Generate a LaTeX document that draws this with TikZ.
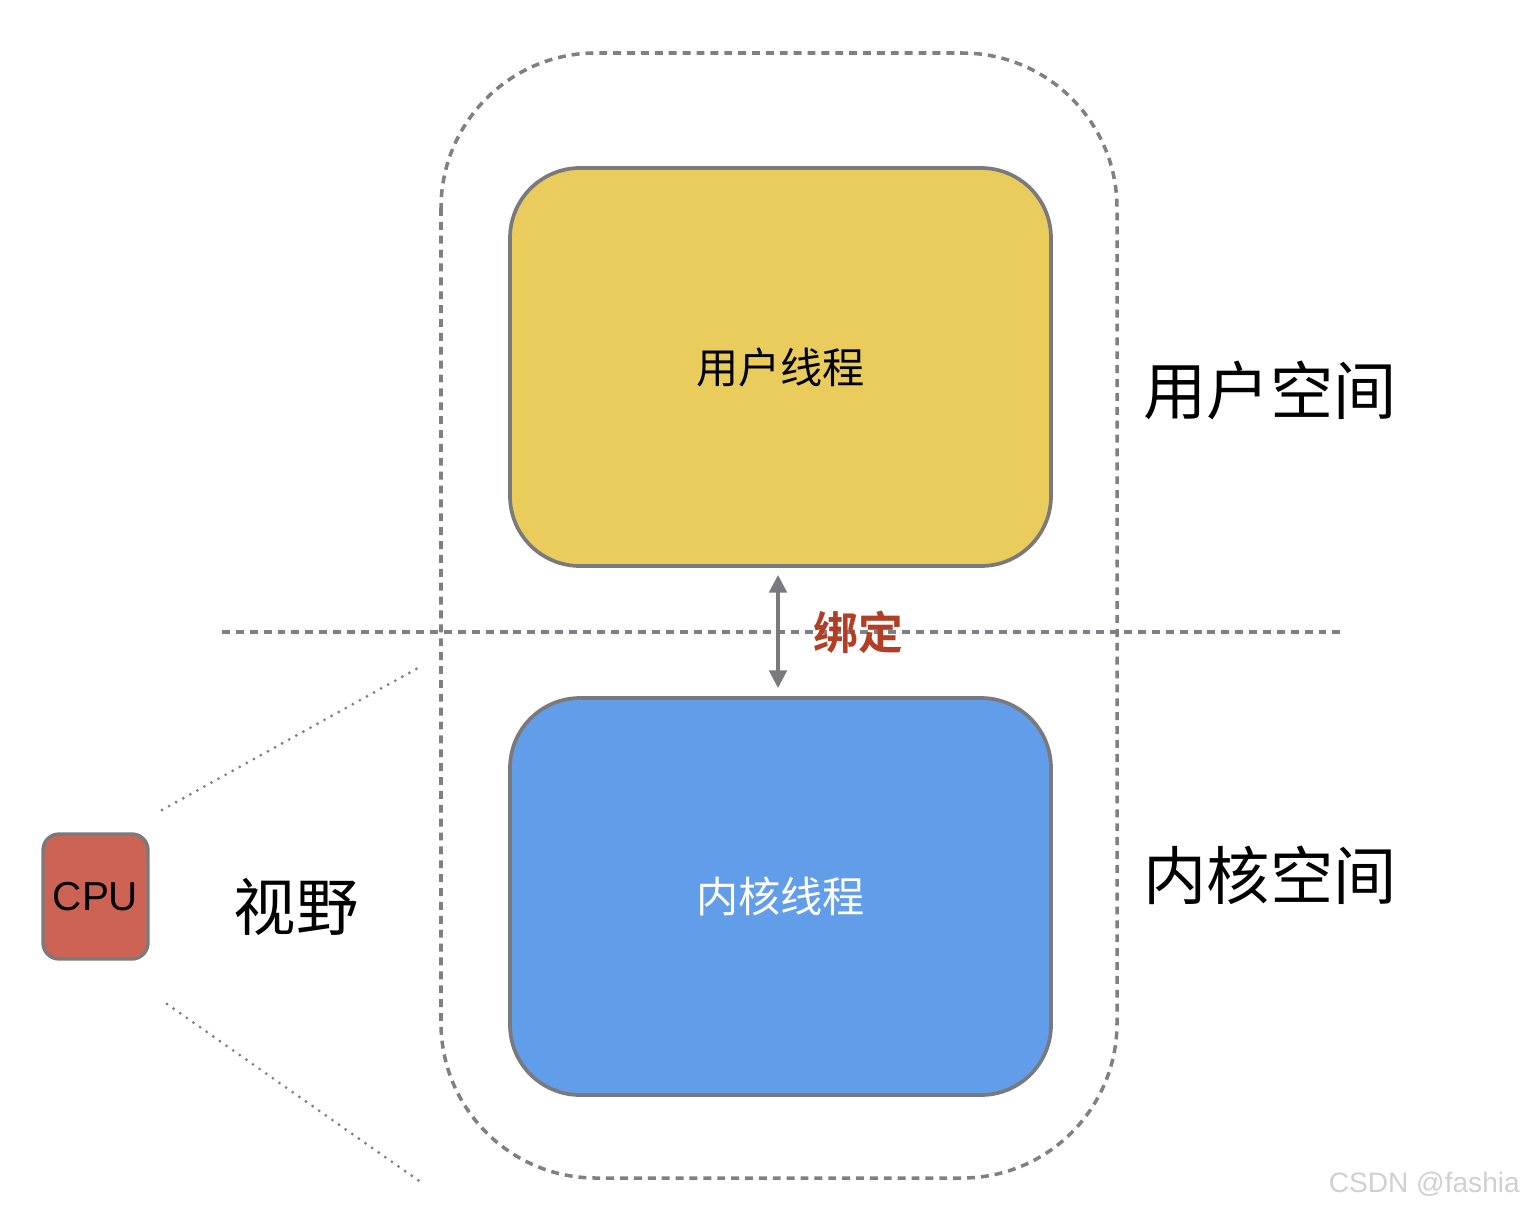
\documentclass[tikz,border=0pt]{standalone}
\usepackage{fontspec}
\setmainfont{Liberation Sans}
\newfontfamily\cjk{Noto Sans CJK SC}
\newfontfamily\cjkb{Noto Sans CJK SC Bold}
\usetikzlibrary{arrows.meta}
\definecolor{dashgray}{HTML}{7F7F85}
\definecolor{boxedge}{HTML}{7A7A7E}
\definecolor{ufill}{HTML}{E9CC5B}
\definecolor{kfill}{HTML}{619DE9}
\definecolor{cpufill}{HTML}{CD6354}
\definecolor{bindred}{HTML}{B23E26}
\definecolor{wm}{HTML}{D0D0D0}
\tikzset{
  px/.style={x=0.02cm,y=-0.02cm},
  dashline/.style={draw=dashgray,line width=2pt,dash pattern=on 4.5pt off 3.4pt},
  dotline/.style={draw=dashgray,line width=1.8pt,line cap=round,dash pattern=on 0pt off 4.6pt},
  thread/.style={draw=boxedge,line width=2.1pt,rounded corners=1.4cm},
  cpubox/.style={draw=boxedge,line width=1.9pt,rounded corners=0.32cm,fill=cpufill},
}
\begin{document}
\begin{tikzpicture}[px]
\useasboundingbox (0,0) rectangle (1524,1210);
% outer dashed container
\draw[dashline,rounded corners=3.1cm] (441,53) rectangle (1117,1178);
% separator
\coordinate (sepL) at (222,632);
\coordinate (sepR) at (1342,632);
\draw[dashline] (sepL) -- (sepR);
% thread boxes
\node[thread,fill=ufill,minimum width=541*0.02cm,minimum height=398*0.02cm] (user) at (780.5,367) {};
\node[thread,fill=kfill,minimum width=541*0.02cm,minimum height=397*0.02cm] (kern) at (780.5,896.5) {};
\node[font=\cjk\fontsize{24}{28}\selectfont] at (user.center) {用户线程};
\node[font=\cjk\fontsize{24}{28}\selectfont,text=white] at (kern.center) {内核线程};
% binding arrow
\coordinate (atop) at (778,575);
\coordinate (abot) at (778,688);
\draw[draw=boxedge,line width=1.8pt,{Triangle[length=10pt,width=10pt]}-{Triangle[length=10pt,width=10pt]}] (atop) -- (abot);
\node[font=\cjkb\fontsize{25.5}{28}\selectfont,text=bindred] (bind) at (858,632) {绑定};
% space labels
\node[font=\cjk\fontsize{36}{40}\selectfont] (us) at (1270,390) {用户空间};
\node[font=\cjk\fontsize{36}{40}\selectfont] (ks) at (1270,875) {内核空间};
% CPU
\node[cpubox,minimum width=105*0.02cm,minimum height=125*0.02cm] (cpu) at (95.5,896.5) {};
\node[font=\fontsize{23}{26}\selectfont] at (cpu.center) {CPU};
\node[font=\cjk\fontsize{35.5}{40}\selectfont] (view) at (296,907) {视野};
% field of view lines
\coordinate (v1a) at (162,810);
\coordinate (v1b) at (418,668);
\coordinate (v2a) at (167,1004);
\coordinate (v2b) at (425,1185);
\draw[dotline] (v1a) -- (v1b);
\draw[dotline] (v2a) -- (v2b);
% watermark
\node[font=\fontsize{16}{18}\selectfont,text=wm,anchor=east] (wmk) at (1526,1184) {CSDN @fashia};
\end{tikzpicture}
\end{document}
